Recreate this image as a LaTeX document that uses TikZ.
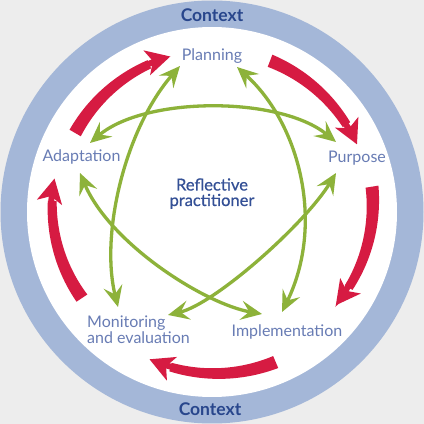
\documentclass[tikz,border=0pt]{standalone}
\usepackage{fontspec}
\setmainfont{Lato}
\newfontfamily\ctrfont{Lato}[FakeBold=0.6]
\usetikzlibrary{arrows.meta}
\definecolor{bgc}{RGB}{237,237,237}
\definecolor{ringc}{RGB}{164,183,216}
\definecolor{redc}{RGB}{214,27,66}
\definecolor{greenc}{RGB}{141,178,58}
\definecolor{labelc}{RGB}{104,124,180}
\definecolor{centerc}{RGB}{52,80,150}
\definecolor{ctxc}{RGB}{40,70,140}
\newcommand\RedArc[4]{%
  \pgfmathsetmacro\RedEnd{#2+8}%
  \fill[redc] plot[domain=#1:\RedEnd, samples=40] (\x:{#3+((#4)-(#3))*(\x-(#1))/((#2)-(#1)) + 6.5-2.5*(\x-(#1))/((#2)-(#1))})
     -- plot[domain=\RedEnd:#1, samples=40] (\x:{#3+((#4)-(#3))*(\x-(#1))/((#2)-(#1)) - 6.5+2.5*(\x-(#1))/((#2)-(#1))}) -- cycle;
  \draw[redc, line width=6pt, -{Stealth[length=24pt,width=25pt,inset=6pt]}] ({#2+10}:{#4}) arc[start angle={#2+10}, end angle=#2, radius=#4];
}
\begin{document}
\begin{tikzpicture}[x=1pt,y=1pt,
  lbl/.style={text=labelc, font=\fontsize{16}{16}\selectfont, inner sep=0pt},
  ctrtext/.style={text=centerc, font=\ctrfont\fontsize{16.5}{15.5}\selectfont, inner sep=0pt},
  ctx/.style={text=ctxc, font=\fontsize{17.5}{18}\selectfont\bfseries, inner sep=0pt},
  garrow/.style={draw=greenc, line width=3.3pt, {Stealth[length=21pt,width=19pt,inset=8pt]}-{Stealth[length=21pt,width=19pt,inset=8pt]}}]
\fill[bgc] (0,0) rectangle (424,424);
\useasboundingbox (0,0) rectangle (424,424);
\coordinate (c) at (212,212);
\fill[ringc] (c) circle[radius=211.5];
\fill[white] (c) circle[radius=185];
% context labels
\node[ctx, anchor=base] (ctxtop) at (212,402) {Context};
\node[ctx, anchor=base] (ctxbot) at (210,9) {Context};
% stage labels
\node[lbl, anchor=base] (plan) at (212,363) {Planning};
\node[lbl, anchor=base] (purp) at (357,261) {Purpose};
\node[lbl, anchor=base] (impl) at (287,88) {Implementation};
\node[lbl, anchor=base west, align=left] (mon) at (87,81) {Monitoring\\and evaluation};
\node[lbl, anchor=base] (adap) at (81.5,262) {Adaptation};
\node[ctrtext, anchor=base, align=center] (rp) at (212,218) {Reflective\\practitioner};
% green double arrows
\coordinate (a1) at (90,281); \coordinate (a2) at (336,282);
\coordinate (b1) at (180,358); \coordinate (b2) at (118,117);
\coordinate (c1) at (237,357); \coordinate (c2) at (282,112);
\coordinate (d1) at (80,251); \coordinate (d2) at (262,110);
\coordinate (e1) at (336,251); \coordinate (e2) at (168,109);
\draw[garrow] (a1) .. controls (145,328) and (280,328) .. (a2);
\draw[garrow] (b1) .. controls (125,295) and (100,190) .. (b2);
\draw[garrow] (c1) .. controls (300,300) and (325,200) .. (c2);
\draw[garrow] (d1) .. controls (110,180) and (205,120) .. (d2);
\draw[garrow] (e1) .. controls (305,200) and (215,120) .. (e2);
% red cycle arrows
\begin{scope}[shift={(212,212)}]
\RedArc{150}{105}{158}{161}
\RedArc{69}{25}{162}{160}
\RedArc{9}{-37}{162}{155}
\RedArc{-67}{-113}{163}{160}
\RedArc{-146.5}{-192}{156}{161}
\end{scope}
\end{tikzpicture}
\end{document}
